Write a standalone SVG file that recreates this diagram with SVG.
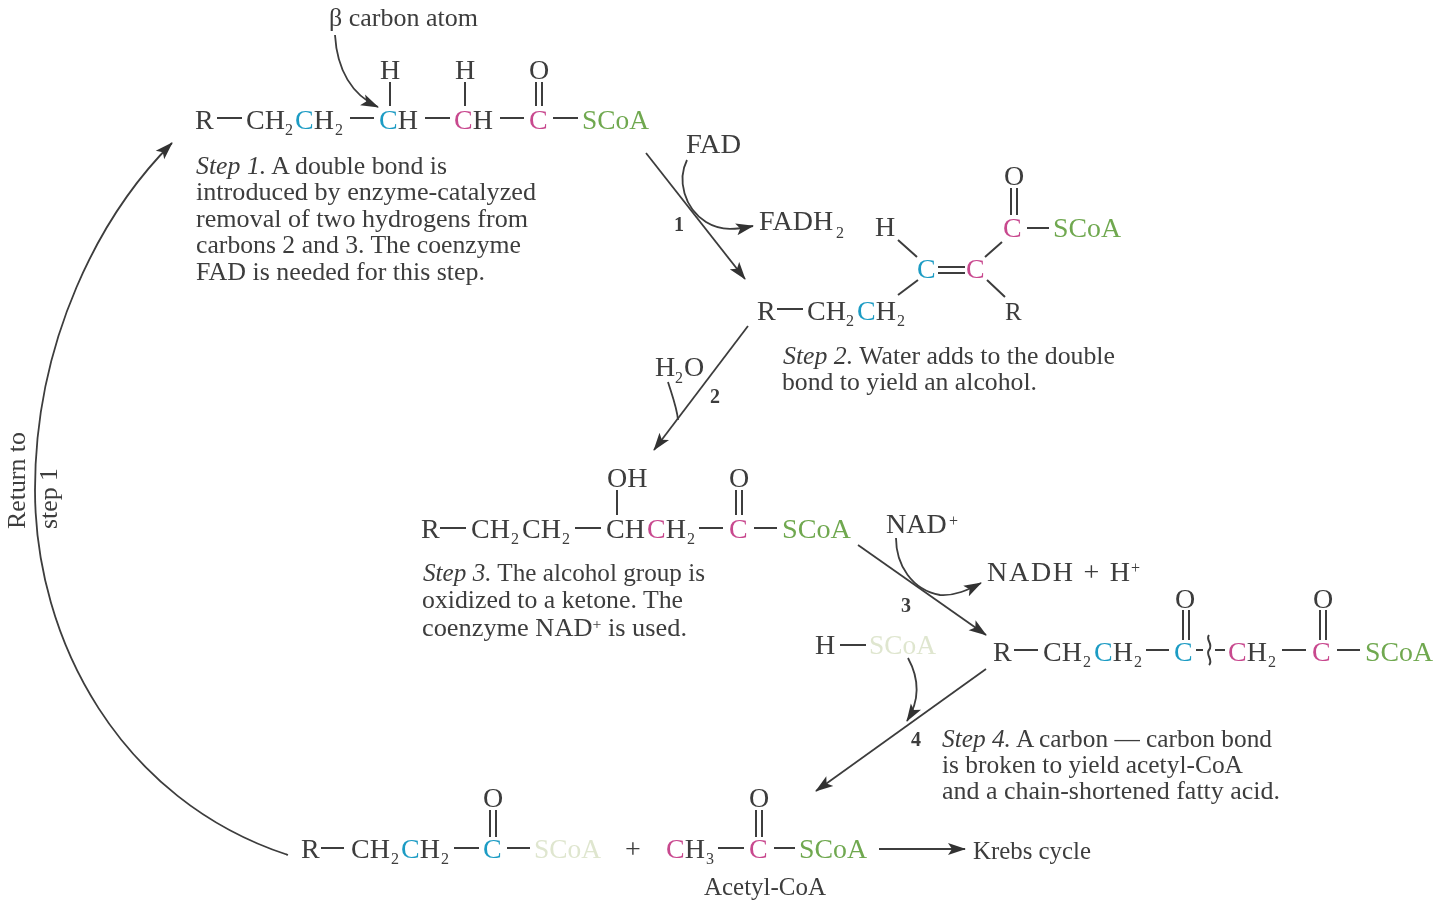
<svg xmlns="http://www.w3.org/2000/svg" width="1440" height="915" viewBox="0 0 1440 915">
<style>
text{font-family:"Liberation Serif","Times New Roman",serif;fill:#3c3c3c}
.m{font-size:28px}
.s{font-size:16px}
.c{font-size:25px}
.n{font-size:20px;font-weight:bold}
.b{fill:#1f9cc4}
.p{fill:#c8488e}
.g{fill:#6fa84f}
.l{fill:#dfe6cf}
.bond{stroke:#3c3c3c;stroke-width:2;fill:none}
.con{stroke:#3c3c3c;stroke-width:1.8;fill:none}
.arr{marker-end:url(#ah)}
</style>
<defs>
<marker id="ah" markerUnits="userSpaceOnUse" markerWidth="20" markerHeight="14" refX="17" refY="7" orient="auto"><path d="M0 1 L18 7 L0 13 L4 7Z" fill="#333"/></marker>
<filter id="soft" x="0" y="0" width="100%" height="100%"><feGaussianBlur stdDeviation="0.6"/></filter>
</defs>
<rect width="1440" height="915" fill="#fff"/>
<g filter="url(#soft)">
<g id="connectors">
<path class="con arr" d="M646 153L745 279"/>
<path class="con arr" d="M687 160C677 180 684 208 706 222C722 232 738 229 753 226"/>
<path class="con arr" d="M748 326L654 450"/>
<path class="con" d="M668 382C672 395 677 408 678 420"/>
<path class="con arr" d="M858 545L986 635"/>
<path class="con arr" d="M896 538C896 565 912 590 940 595C955 596 968 590 981 583"/>
<path class="con arr" d="M908 658C920 680 920 700 907 721"/>
<path class="con arr" d="M986 669L816 791"/>
<path class="con arr" d="M879 849L965 849"/>
<path class="con arr" d="M335 35C337 70 352 95 378 107"/>
<path class="con arr" d="M288 855C120 800 35 640 35 490C35 340 100 215 172 143"/>
</g>

<g id="beta-label"><text x="329" y="26" class="c" textLength="149" lengthAdjust="spacingAndGlyphs">β carbon atom</text></g>

<g id="mol-1">
<text x="195" y="129" class="m">R</text><path class="bond" d="M217 118H242"/>
<text x="246" y="129" class="m">CH</text><text x="285" y="135" class="s">2</text>
<text x="295" y="129" class="m"><tspan class="b">C</tspan>H</text><text x="335" y="135" class="s">2</text>
<path class="bond" d="M350 118H374"/>
<text x="379" y="129" class="m"><tspan class="b">C</tspan>H</text>
<path class="bond" d="M425 118H450"/>
<text x="454" y="129" class="m"><tspan class="p">C</tspan>H</text>
<path class="bond" d="M500 118H524"/>
<text x="529" y="129" class="m p">C</text>
<path class="bond" d="M553 118H578"/>
<text x="582" y="129" class="m g" textLength="67" lengthAdjust="spacingAndGlyphs">SCoA</text>
<text x="380" y="79" class="m">H</text><path class="bond" d="M390 82V106"/>
<text x="455" y="79" class="m">H</text><path class="bond" d="M465 82V106"/>
<text x="529" y="79" class="m">O</text><path class="bond" d="M536 82V106M542 82V106"/>
</g>

<g id="step-1-text">
<text x="196" y="174" class="c" textLength="251" lengthAdjust="spacingAndGlyphs"><tspan font-style="italic">Step 1.</tspan> A double bond is</text>
<text x="196" y="200" class="c" textLength="340" lengthAdjust="spacingAndGlyphs">introduced by enzyme-catalyzed</text>
<text x="196" y="227" class="c" textLength="332" lengthAdjust="spacingAndGlyphs">removal of two hydrogens from</text>
<text x="196" y="253" class="c" textLength="325" lengthAdjust="spacingAndGlyphs">carbons 2 and 3. The coenzyme</text>
<text x="196" y="280" class="c" textLength="289" lengthAdjust="spacingAndGlyphs">FAD is needed for this step.</text>
</g>

<g id="fad-1">
<text x="686" y="153" class="m" textLength="55" lengthAdjust="spacingAndGlyphs">FAD</text>
<text x="759" y="230" class="m">FADH</text><text x="836" y="238" class="s">2</text>
<text x="674" y="231" class="n">1</text>
</g>

<g id="mol-2">
<text x="757" y="320" class="m">R</text><path class="bond" d="M777 309H803"/>
<text x="807" y="320" class="m">CH</text><text x="846" y="326" class="s">2</text>
<text x="857" y="320" class="m"><tspan class="b">C</tspan>H</text><text x="897" y="326" class="s">2</text>
<path class="bond" d="M898 295L918 280M898 240L917 257"/>
<text x="875" y="236" class="m">H</text>
<text x="917" y="278" class="m b">C</text>
<path class="bond" d="M938 267H965M938 273H965"/>
<text x="966" y="278" class="m p">C</text>
<path class="bond" d="M985 257L1002 242M987 280L1005 297"/>
<text x="1005" y="320" class="m" style="font-size:25px">R</text>
<text x="1003" y="237" class="m p">C</text>
<path class="bond" d="M1011 188V215M1017 188V215M1027 228H1049"/>
<text x="1004" y="185" class="m">O</text>
<text x="1053" y="237" class="m g" textLength="68" lengthAdjust="spacingAndGlyphs">SCoA</text>
</g>

<g id="step-2-text">
<text x="783" y="364" class="c" textLength="332" lengthAdjust="spacingAndGlyphs"><tspan font-style="italic">Step 2.</tspan> Water adds to the double</text>
<text x="782" y="390" class="c" textLength="255" lengthAdjust="spacingAndGlyphs">bond to yield an alcohol.</text>
</g>

<g id="h2o-2">
<text x="655" y="376" class="m">H</text><text x="675" y="383" class="s">2</text><text x="684" y="376" class="m">O</text>
<text x="710" y="403" class="n">2</text>
</g>

<g id="mol-3">
<text x="421" y="538" class="m">R</text><path class="bond" d="M440 528H466"/>
<text x="471" y="538" class="m">CH</text><text x="511" y="544" class="s">2</text>
<text x="522" y="538" class="m">CH</text><text x="562" y="544" class="s">2</text>
<path class="bond" d="M575 528H601"/>
<text x="606" y="538" class="m">CH</text>
<text x="647" y="538" class="m"><tspan class="p">C</tspan>H</text><text x="687" y="544" class="s">2</text>
<path class="bond" d="M699 528H723"/>
<text x="729" y="538" class="m p">C</text>
<path class="bond" d="M754 528H777"/>
<text x="782" y="538" class="m g" textLength="69" lengthAdjust="spacingAndGlyphs">SCoA</text>
<text x="607" y="487" class="m">OH</text><path class="bond" d="M617 490V515"/>
<text x="729" y="487" class="m">O</text><path class="bond" d="M736 490V515M742 490V515"/>
</g>

<g id="step-3-text">
<text x="423" y="581" class="c" textLength="282" lengthAdjust="spacingAndGlyphs"><tspan font-style="italic">Step 3.</tspan> The alcohol group is</text>
<text x="422" y="608" class="c" textLength="261" lengthAdjust="spacingAndGlyphs">oxidized to a ketone. The</text>
<text x="422" y="636" class="c" textLength="265" lengthAdjust="spacingAndGlyphs">coenzyme NAD<tspan dy="-7" font-size="15">+</tspan><tspan dy="7"> is used.</tspan></text>
</g>

<g id="nad-3">
<text x="886" y="533" class="m">NAD</text><text x="949" y="526" class="s">+</text>
<text x="987" y="581" class="m" textLength="143" lengthAdjust="spacing">NADH + H</text><text x="1131" y="573" class="s">+</text>
<text x="901" y="612" class="n">3</text>
</g>

<g id="hscoa-4">
<text x="815" y="654" class="m">H</text><path class="bond" d="M840 645H866"/>
<text x="869" y="654" class="m l" textLength="67" lengthAdjust="spacingAndGlyphs">SCoA</text>
<text x="911" y="746" class="n">4</text>
</g>

<g id="mol-4">
<text x="993" y="661" class="m">R</text><path class="bond" d="M1014 650H1038"/>
<text x="1043" y="661" class="m">CH</text><text x="1083" y="667" class="s">2</text>
<text x="1094" y="661" class="m"><tspan class="b">C</tspan>H</text><text x="1134" y="667" class="s">2</text>
<path class="bond" d="M1146 650H1169"/>
<text x="1174" y="661" class="m b">C</text>
<path class="bond" d="M1196 650H1203M1215 650H1225"/>
<path class="bond" stroke-width="1.4" d="M1209 635C1205 640 1214 644 1209 650C1205 655 1214 660 1209 665"/>
<text x="1228" y="661" class="m"><tspan class="p">C</tspan>H</text><text x="1268" y="667" class="s">2</text>
<path class="bond" d="M1282 650H1306"/>
<text x="1312" y="661" class="m p">C</text>
<path class="bond" d="M1337 650H1360"/>
<text x="1365" y="661" class="m g" textLength="68" lengthAdjust="spacingAndGlyphs">SCoA</text>
<text x="1175" y="608" class="m">O</text><path class="bond" d="M1183 610V640M1189 610V640"/>
<text x="1313" y="608" class="m">O</text><path class="bond" d="M1320 610V640M1326 610V640"/>
</g>

<g id="step-4-text">
<text x="942" y="747" class="c" textLength="330" lengthAdjust="spacingAndGlyphs"><tspan font-style="italic">Step 4.</tspan> A carbon — carbon bond</text>
<text x="942" y="773" class="c" textLength="301" lengthAdjust="spacingAndGlyphs">is broken to yield acetyl-CoA</text>
<text x="942" y="799" class="c" textLength="338" lengthAdjust="spacingAndGlyphs">and a chain-shortened fatty acid.</text>
</g>

<g id="mol-5">
<text x="301" y="858" class="m">R</text><path class="bond" d="M321 848H344"/>
<text x="351" y="858" class="m">CH</text><text x="391" y="864" class="s">2</text>
<text x="401" y="858" class="m"><tspan class="b">C</tspan>H</text><text x="441" y="864" class="s">2</text>
<path class="bond" d="M454 848H479"/>
<text x="483" y="858" class="m b">C</text>
<path class="bond" d="M507 848H530"/>
<text x="534" y="858" class="m l" textLength="67" lengthAdjust="spacingAndGlyphs">SCoA</text>
<text x="483" y="807" class="m">O</text><path class="bond" d="M490 810V837M496 810V837"/>
</g>

<text x="625" y="858" class="m" id="plus">+</text>

<g id="acetyl-coa">
<text x="666" y="858" class="m"><tspan class="p">C</tspan>H</text><text x="706" y="864" class="s">3</text>
<path class="bond" d="M718 848H744"/>
<text x="749" y="858" class="m p">C</text>
<path class="bond" d="M774 848H795"/>
<text x="799" y="858" class="m g" textLength="68" lengthAdjust="spacingAndGlyphs">SCoA</text>
<text x="749" y="807" class="m">O</text><path class="bond" d="M756 810V837M762 810V837"/>
<text x="704" y="895" class="c" textLength="122" lengthAdjust="spacingAndGlyphs">Acetyl-CoA</text>
</g>

<g id="krebs"><text x="973" y="859" class="c" textLength="118" lengthAdjust="spacingAndGlyphs">Krebs cycle</text></g>

<g id="return-label">
<text transform="translate(25,529) rotate(-90)" class="c" textLength="97" lengthAdjust="spacingAndGlyphs">Return to</text>
<text transform="translate(57,529) rotate(-90)" class="c" textLength="61" lengthAdjust="spacingAndGlyphs">step 1</text>
</g>
</g>
</svg>
